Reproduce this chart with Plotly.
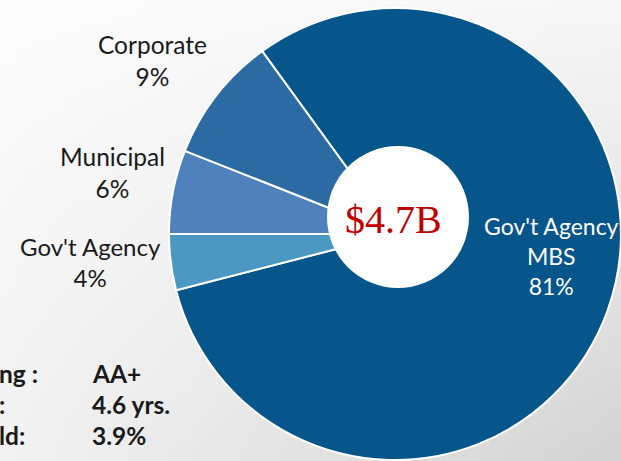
import base64
import struct
import zlib
import plotly.graph_objects as go

W, H = 621, 461

# ---- data ----
labels = ["Gov't Agency MBS", "Gov't Agency", "Municipal", "Corporate"]
values = [81, 4, 6, 9]
label_lines = [["Gov't Agency", "MBS"], ["Gov't Agency"], ["Municipal"], ["Corporate"]]
colors = ["#06558b", "#4b98c3", "#4f81bd", "#2c6aa4"]
total_text = "$4.7B"
stat_names = ["ng :", ":", "ld:"]
stat_values = ["AA+", "4.6 yrs.", "3.9%"]


def gradient_png(w=64, h=48):
    # subtle slide-style background: near white top-left, grey bottom-right
    tl, tr, bl, br = 252, 247, 242, 212
    raw = b""
    for j in range(h):
        v = j / (h - 1)
        raw += b"\x00"
        for i in range(w):
            u = i / (w - 1)
            c = (tl * (1 - u) * (1 - v) + tr * u * (1 - v) + bl * (1 - u) * v + br * u * v)
            c = int(round(c))
            raw += bytes([c, c, c])

    def chunk(t, d):
        return struct.pack(">I", len(d)) + t + d + struct.pack(">I", zlib.crc32(t + d) & 0xFFFFFFFF)

    png = b"\x89PNG\r\n\x1a\n" + chunk(b"IHDR", struct.pack(">IIBBBBB", w, h, 8, 2, 0, 0, 0))
    png += chunk(b"IDAT", zlib.compress(raw)) + chunk(b"IEND", b"")
    return "data:image/png;base64," + base64.b64encode(png).decode()


fig = go.Figure()
fig.add_trace(go.Pie(
    labels=labels, values=values, sort=False, direction="clockwise",
    rotation=-36, textinfo="none", hoverinfo="label+percent",
    marker=dict(colors=colors, line=dict(color="white", width=2)),
    domain=dict(x=[0.272, 1.0], y=[0.0022, 0.9826]),
    showlegend=False,
))


def px(x):
    return x / W


def py(y):
    return 1 - y / H


fig.add_layout_image(source=gradient_png(), xref="paper", yref="paper", x=0, y=1,
                     sizex=1, sizey=1, sizing="stretch", xanchor="left", yanchor="top",
                     layer="below")

# white centre disc
fig.add_shape(type="circle", xref="paper", yref="paper",
              x0=px(327), x1=px(469), y0=py(288), y1=py(146),
              fillcolor="white", line=dict(width=0), layer="above")

# slice labels
label_pos = [(551, 256, "white", 23), (90, 262, "#1a1a1a", 24),
             (112, 172, "#1a1a1a", 24.5), (152, 61, "#1a1a1a", 24.5)]
for lines, v, (x, y, c, s) in zip(label_lines, values, label_pos):
    txt = "<br>".join(lines + [f"{v}%"])
    fig.add_annotation(x=px(x), y=py(y), xref="paper", yref="paper", text=txt,
                       showarrow=False, xanchor="center", yanchor="middle",
                       font=dict(family="Lato", size=s, color=c))

fig.add_annotation(x=px(393), y=py(220), xref="paper", yref="paper", text=total_text,
                   showarrow=False, xanchor="center", yanchor="middle",
                   font=dict(family="Liberation Serif", size=40, color="#c00000"))

for i, (n, v) in enumerate(zip(stat_names, stat_values)):
    yy = 373 + i * 31
    fig.add_annotation(x=0, y=py(yy), xref="paper", yref="paper", text=n,
                       showarrow=False, xanchor="left", yanchor="middle", xshift=-3,
                       font=dict(family="Lato", size=24.5, color="#1a1a1a", weight="bold"))
    fig.add_annotation(x=px(93), y=py(yy), xref="paper", yref="paper", text=v,
                       showarrow=False, xanchor="left", yanchor="middle", xshift=-3,
                       font=dict(family="Lato", size=24.5, color="#1a1a1a", weight="bold"))

fig.update_layout(width=W, height=H, margin=dict(l=0, r=0, t=0, b=0),
                  paper_bgcolor="#f8f8f8", plot_bgcolor="#f8f8f8")

fig.write_html("out.html", config={"displayModeBar": False},
               post_script="document.body.style.margin='0px';")
